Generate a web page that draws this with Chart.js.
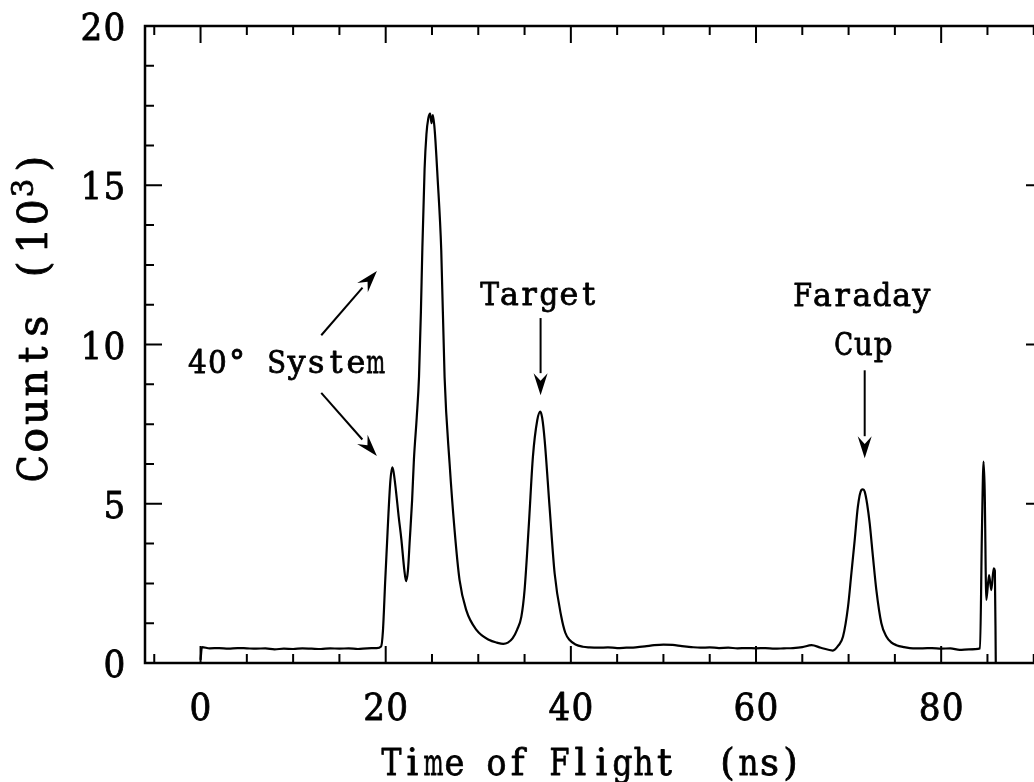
<!DOCTYPE html>
<html>
<head>
<meta charset="utf-8">
<script src="https://cdn.jsdelivr.net/npm/chart.js@4.4.1/dist/chart.umd.min.js"></script>
<style>
  html, body { margin: 0; padding: 0; background: #fff; overflow: hidden; }
</style>
</head>
<body>
<canvas id="tof" width="1050" height="782"></canvas>
<script>
// espectro de tempo de voo (contagens em 10^3)
const tempoNs = [
  0.0, 0.15, 1, 2, 3, 4, 5, 6, 7, 8, 9, 10, 11, 12, 13, 14, 15, 16, 17, 18, 19,
  19.5, 19.7, 19.95, 20.15, 20.3, 20.5, 20.7, 20.85, 21.1, 21.4, 21.7, 22.0, 22.2, 22.4, 22.6, 22.85,
  23.05, 23.35, 23.6, 23.8, 23.95, 24.2, 24.4, 24.6, 24.8, 24.95, 25.1, 25.3, 25.6, 26.0, 26.36, 26.9,
  27.44, 27.98, 28.7, 29.8, 31.2, 32.0, 32.7, 33.2, 33.7, 34.2, 34.65, 35.0, 35.47, 35.9, 36.37,
  36.7, 36.9, 37.17, 37.7, 38.25, 38.97, 39.4, 39.87, 40.5, 41.3, 42, 43, 44, 45, 46, 47, 48, 49,
  50, 51, 52, 53, 54, 55, 56, 57, 58, 59, 60, 61, 62, 63, 64, 65, 66, 67, 68.3, 68.9, 69.4, 69.94,
  70.3, 70.66, 71.0, 71.38, 71.55, 71.74, 72.0, 72.28, 72.63, 73.0, 73.54, 74.08, 74.6, 75.16, 76.0,
  76.96, 78, 79, 80, 81, 82, 83, 84.2, 84.4, 84.58, 84.7, 84.88, 85.17, 85.42, 85.67, 85.8, 85.9
];
const contagens = [
  0.10, 0.50, 0.46, 0.47, 0.45, 0.47, 0.46, 0.45, 0.46, 0.43, 0.45, 0.44, 0.46, 0.45, 0.44, 0.46, 0.45, 0.46, 0.44, 0.46, 0.47,
  0.52, 1.0, 2.6, 3.8, 4.7, 5.7, 6.14, 6.0, 5.43, 4.6, 3.86, 2.95, 2.57, 2.9, 3.86, 5.1,
  6.4, 7.7, 9.0, 11.0, 12.9, 15.5, 16.6, 17.1, 17.25, 16.95, 17.2, 16.7, 15.26, 12.96, 8.98, 6.27,
  4.17, 2.6, 1.66, 1.04, 0.72, 0.64, 0.6, 0.64, 0.77, 1.05, 1.45, 2.29, 4.38, 6.47, 7.62,
  7.89, 7.7, 7.0, 4.9, 2.81, 1.45, 0.95, 0.72, 0.58, 0.51, 0.49, 0.48, 0.49, 0.47, 0.48, 0.49, 0.52, 0.56,
  0.58, 0.57, 0.53, 0.5, 0.48, 0.49, 0.47, 0.48, 0.46, 0.47, 0.46, 0.47, 0.45, 0.46, 0.47, 0.5, 0.56, 0.48, 0.39, 0.55, 0.83, 1.77,
  2.81, 3.86, 4.9, 5.43, 5.45, 5.38, 5.0, 4.38, 3.34, 2.29, 1.25, 0.83, 0.65, 0.56, 0.5,
  0.46, 0.46, 0.47, 0.45, 0.46, 0.41, 0.43, 0.46, 4.08, 6.32, 5.43, 1.98, 2.76, 2.29, 2.97, 2.9, 0.0
];

// eixos
const xMaiores = [0, 20, 40, 60, 80];
const xMenores = [-5, 5, 10, 15, 25, 30, 35, 45, 50, 55, 65, 70, 75, 85, 90];
const yMaiores = [0, 5, 10, 15, 20];
const yMenores = [1.25, 2.5, 3.75, 6.25, 7.5, 8.75, 11.25, 12.5, 13.75, 16.25, 17.5, 18.75];
const tituloX = 'Time of Flight  (ns)';
const tituloY = 'Counts (10';

// anotações (coordenadas em dados)
const setas = [
  { de: [13.04, 10.29], ate: [19.05, 12.31] },
  { de: [13.04, 8.48], ate: [19.05, 6.50] },
  { de: [36.73, 10.83], ate: [36.73, 8.41] },
  { de: [71.74, 9.19], ate: [71.74, 6.43] }
];
const rotulos = [
  { txt: '40° System', x: -1.4, y: 9.1, align: 'left' },
  { txt: 'Target', x: 36.57, y: 11.23, align: 'center' },
  { txt: 'Faraday', x: 71.45, y: 11.2, align: 'center' },
  { txt: 'Cup', x: 71.6, y: 9.66, align: 'center' }
];

const FONTE = '"DejaVu Serif", "Liberation Serif", serif';

// texto em "máquina de escrever": cada letra centrada numa célula fixa
function textoMono(ctx, s, x, y, o) {
  ctx.save();
  ctx.translate(x, y);
  if (o.rot) ctx.rotate(o.rot);
  ctx.font = o.size + 'px ' + FONTE;
  ctx.fillStyle = '#000';
  ctx.strokeStyle = '#000';
  ctx.lineWidth = 0.8;
  ctx.lineJoin = 'round';
  ctx.textAlign = 'center';
  ctx.textBaseline = 'alphabetic';
  const total = s.length * o.cell;
  const x0 = o.align === 'center' ? -total / 2 : o.align === 'right' ? -total : 0;
  for (let i = 0; i < s.length; i++) {
    const ch = s[i];
    if (ch === ' ') continue;
    const w = ctx.measureText(ch).width;
    const k = Math.min(1, (o.cell * (o.fill || 0.95)) / w);
    ctx.save();
    ctx.translate(x0 + (i + 0.5) * o.cell, 0);
    ctx.scale(k, 1);
    ctx.fillText(ch, 0, 0);
    ctx.strokeText(ch, 0, 0);
    ctx.restore();
  }
  ctx.restore();
  return total;
}

function seta(ctx, x1, y1, x2, y2) {
  const ang = Math.atan2(y2 - y1, x2 - x1);
  const L = 22, W = 7;
  const bx = x2 - L * Math.cos(ang), by = y2 - L * Math.sin(ang);
  ctx.beginPath();
  ctx.moveTo(x1, y1);
  ctx.lineTo(bx, by);
  ctx.lineWidth = 2;
  ctx.stroke();
  ctx.beginPath();
  ctx.moveTo(x2, y2);
  ctx.lineTo(bx + W * Math.sin(ang), by - W * Math.cos(ang));
  ctx.lineTo(bx + 0.35 * L * Math.cos(ang), by + 0.35 * L * Math.sin(ang));
  ctx.lineTo(bx - W * Math.sin(ang), by + W * Math.cos(ang));
  ctx.closePath();
  ctx.fill();
}

const moldura = {
  id: 'moldura',
  afterDraw(chart) {
    const ctx = chart.ctx;
    const a = chart.chartArea;
    const sx = chart.scales.x, sy = chart.scales.y;
    ctx.save();
    ctx.strokeStyle = '#000';
    ctx.fillStyle = '#000';
    ctx.lineCap = 'butt';

    // caixa
    ctx.lineWidth = 2.5;
    ctx.strokeRect(a.left, a.top, a.right - a.left, a.bottom - a.top);

    // marcas
    ctx.lineWidth = 2;
    const marcaX = (v, len) => {
      const px = sx.getPixelForValue(v);
      ctx.beginPath();
      ctx.moveTo(px, a.bottom); ctx.lineTo(px, a.bottom - len);
      ctx.moveTo(px, a.top); ctx.lineTo(px, a.top + len);
      ctx.stroke();
    };
    const marcaY = (v, len) => {
      const py = sy.getPixelForValue(v);
      ctx.beginPath();
      ctx.moveTo(a.left, py); ctx.lineTo(a.left + len, py);
      ctx.moveTo(a.right, py); ctx.lineTo(a.right - len, py);
      ctx.stroke();
    };
    xMaiores.forEach(v => marcaX(v, 17));
    xMenores.forEach(v => marcaX(v, 9));
    yMaiores.forEach(v => marcaY(v, 17));
    yMenores.forEach(v => marcaY(v, 9));

    // rótulos dos eixos
    xMaiores.forEach(v => textoMono(ctx, String(v), sx.getPixelForValue(v), 720,
      { cell: 23, size: 38, align: 'center' }));
    yMaiores.forEach(v => textoMono(ctx, String(v), 126, sy.getPixelForValue(v) + 14,
      { cell: 23, size: 38, align: 'right' }));

    // títulos
    textoMono(ctx, tituloX, (a.left + a.right) / 2 - 3, 775, { cell: 21, size: 37, align: 'center' });
    const rot = -Math.PI / 2;
    const w = textoMono(ctx, tituloY, 47, 483, { cell: 28.5, size: 41, align: 'left', rot });
    textoMono(ctx, '3', 33, 483 - w, { cell: 20, size: 29, align: 'left', rot });
    textoMono(ctx, ')', 47, 483 - w - 20, { cell: 28.5, size: 41, align: 'left', rot });

    // anotações
    setas.forEach(s => seta(ctx,
      sx.getPixelForValue(s.de[0]), sy.getPixelForValue(s.de[1]),
      sx.getPixelForValue(s.ate[0]), sy.getPixelForValue(s.ate[1])));
    rotulos.forEach(r => textoMono(ctx, r.txt, sx.getPixelForValue(r.x), sy.getPixelForValue(r.y),
      { cell: 19.8, size: 32, align: r.align }));

    ctx.restore();
  }
};

new Chart(document.getElementById('tof'), {
  type: 'line',
  data: {
    datasets: [{
      data: tempoNs.map((t, i) => ({ x: t, y: contagens[i] })),
      borderColor: '#000',
      borderWidth: 2.2,
      pointRadius: 0,
      fill: false,
      cubicInterpolationMode: 'monotone'
    }]
  },
  options: {
    responsive: false,
    animation: false,
    devicePixelRatio: 1,
    layout: { padding: { left: 145, top: 26, right: 7, bottom: 119 } },
    plugins: { legend: { display: false }, tooltip: { enabled: false } },
    scales: {
      x: { type: 'linear', min: -6, max: 91, display: false },
      y: { type: 'linear', min: 0, max: 20, display: false }
    }
  },
  plugins: [moldura]
});
</script>
</body>
</html>
